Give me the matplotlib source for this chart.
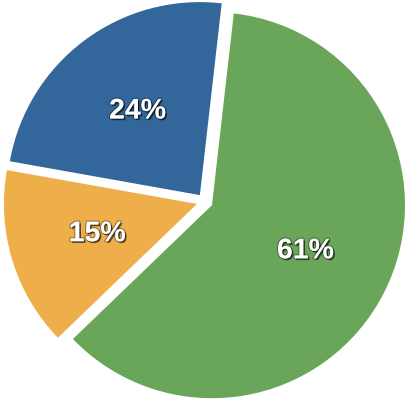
import matplotlib.pyplot as plt
import matplotlib.patheffects as pe

# slice data (clockwise from the top)
shares = [61, 15, 24]
colors = ['#6aa659', '#eeae4a', '#33679c']

W, H = 408, 400
R_PX = 193.0          # pie radius in pixels
CX, CY = 204.7, 201.6  # pie centre in pixels (from top-left)

fig = plt.figure(figsize=(W / 100, H / 100), dpi=100)
ax = fig.add_axes([0, 0, 1, 1])
ax.set_axis_off()

wedges, texts, autotexts = ax.pie(
    shares, colors=colors, startangle=83.5, counterclock=False,
    explode=[0.042] * len(shares), radius=1.0,
    autopct='%d%%', pctdistance=0.54,
    wedgeprops=dict(linewidth=0),
    textprops=dict(color='white', fontsize=20.5, fontweight='bold',
                   family=['Liberation Sans', 'DejaVu Sans']))

shadow = [pe.SimplePatchShadow(offset=(1.2, -1.2), shadow_rgbFace='black', alpha=0.55),
          pe.Stroke(linewidth=1.6, foreground=(0, 0, 0, 0.35)),
          pe.Normal()]
for t in autotexts:
    t.set_path_effects(shadow)

ax.set_xlim(-CX / R_PX, (W - CX) / R_PX)
ax.set_ylim(-(H - CY) / R_PX, CY / R_PX)
ax.set_aspect('auto')

fig.savefig('out.png', dpi=100, facecolor='white')
